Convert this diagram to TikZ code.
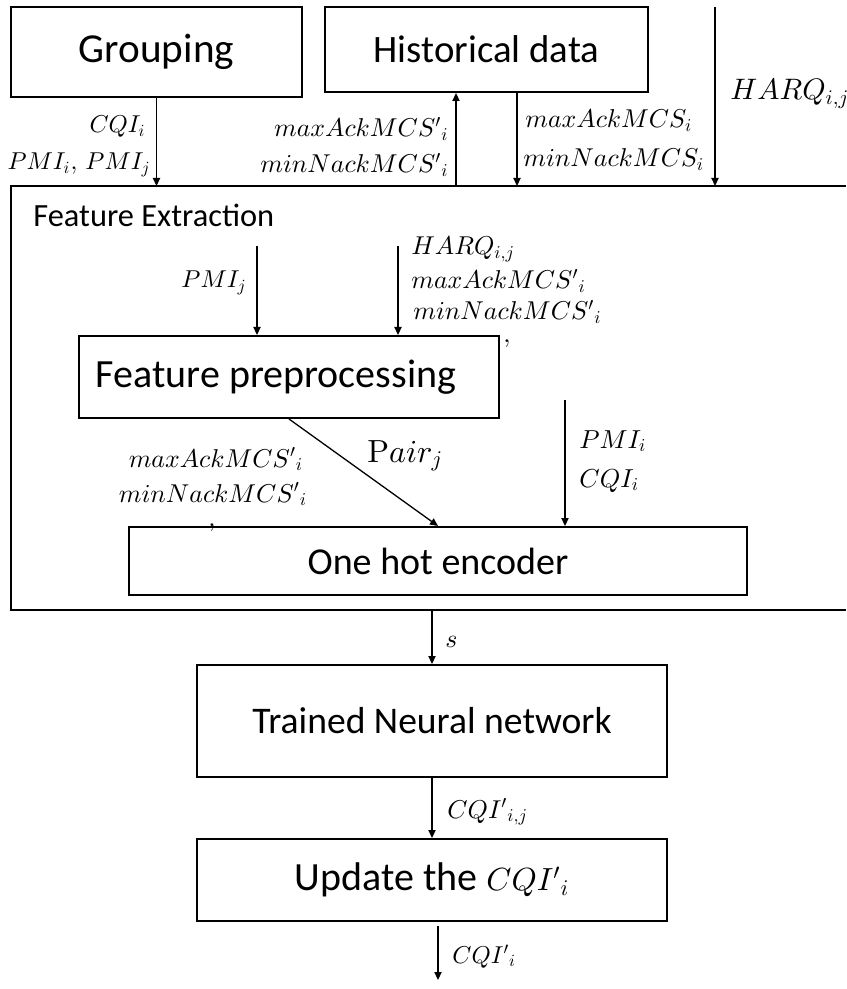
\documentclass[tikz,border=0pt]{standalone}
\usepackage[no-math]{fontspec}
\setmainfont{Carlito}
\usetikzlibrary{arrows.meta}

% let the math fonts scale to any size
\DeclareFontShape{OML}{cmm}{m}{it}{<->cmmi10}{}
\DeclareFontShape{OMS}{cmsy}{m}{n}{<->cmsy10}{}
\DeclareFontShape{OT1}{cmr}{m}{n}{<->cmr10}{}
\DeclareFontShape{OMX}{cmex}{m}{n}{<->cmex10}{}

\tikzset{
  x=0.5pt, y=-0.5pt,
  box/.style={draw, line width=1pt, inner sep=0pt, font=\fontsize{20}{24}\selectfont},
  frame/.style={line width=1pt},
  arr/.style={line width=0.65pt, -{Triangle[width=3.6pt,length=4pt]}},
  lab/.style={inner sep=0pt, font=\fontsize{12.9}{15}\selectfont},
  labsm/.style={inner sep=0pt, font=\fontsize{12.2}{15}\selectfont},
  labbig/.style={inner sep=0pt, font=\fontsize{14.8}{18}\selectfont},
  labmid/.style={inner sep=0pt, font=\fontsize{13}{16}\selectfont},
}

\begin{document}
\begin{tikzpicture}
\useasboundingbox (0,0) rectangle (846,989);

% top blocks
\node[box, minimum width=145.5pt, minimum height=45pt, font=\fontsize{20.6}{24}\selectfont] (grp) at (156.5,52) {Grouping};
\node[box, minimum width=161.5pt, minimum height=42.5pt, font=\fontsize{19.4}{24}\selectfont] (hist) at (486.5,49.5) {Historical data};

% feature extraction frame (right side runs off the page)
\coordinate (fetop) at (11,186);
\coordinate (febot) at (11,610);
\draw[frame] (846,186) -- (fetop) -- (febot) -- (846,610);
\node[inner sep=0pt, anchor=base west, font=\fontsize{16.2}{19}\selectfont] (fetitle) at (33,227) {Feature Extraction};

% inner blocks
\node[box, minimum width=210pt, minimum height=41pt] (fp) at (289,377) {Feature preprocessing\hspace*{13pt}};
\node[box, minimum width=309pt, minimum height=34pt, font=\fontsize{19}{23}\selectfont] (ohe) at (438,561) {One hot encoder};

% lower blocks
\node[box, minimum width=235pt, minimum height=56pt, font=\fontsize{18.8}{23}\selectfont] (tnn) at (432,721) {Trained Neural network};
\node[box, minimum width=235pt, minimum height=41pt] (upd) at (432,880)
  {\raisebox{-5pt}{Update the {\fontsize{16}{18}\selectfont$CQI'{}_i$}}};

% connector ports
\coordinate (upx) at (456,0);
\coordinate (dnx) at (517,0);
\coordinate (harqsrc) at (715,7);
\coordinate (pmijsrc) at (257,246);
\coordinate (harqinsrc) at (398,246);
\coordinate (pmiisrc) at (565,400);
\coordinate (outsrc) at (438,926);
\coordinate (outdst) at (438,980);

% connectors
\draw[arr] (grp.south) -- (grp.south |- fetop);
\draw[arr] (upx |- fetop) -- (upx |- hist.south);
\draw[arr] (dnx |- hist.south) -- (dnx |- fetop);
\draw[arr] (harqsrc) -- (harqsrc |- fetop);
\draw[arr] (pmijsrc) -- (pmijsrc |- fp.north);
\draw[arr] (harqinsrc) -- (harqinsrc |- fp.north);
\draw[arr] (fp.south) -- (ohe.north);
\draw[arr] (pmiisrc) -- (pmiisrc |- ohe.north);
\draw[arr] (tnn.north |- febot) -- (tnn.north);
\draw[arr] (tnn.south) -- (upd.north);
\draw[arr] (outsrc) -- (outdst);

% labels, top row
\node[labsm, anchor=base east] (l1) at (146,133) {$CQI_i$};
\node[labsm, anchor=base east] (l2) at (151,170) {$PMI_i,\,PMI_j$};
\node[lab, anchor=base east] (l3) at (449,137) {$maxAckMCS'{}_i$};
\node[lab, anchor=base east] (l4) at (449,173) {$minNackMCS'{}_i$};
\node[lab, anchor=base west] (l5) at (525,128) {$maxAckMCS_i$};
\node[lab, anchor=base west] (l6) at (523,167) {$minNackMCS_i$};
\node[labbig, anchor=base west] (l7) at (730,100) {$HARQ_{i,j}$};

% labels inside the frame
\node[labsm, anchor=base east] (l8) at (247,288) {$PMI_j$};
\node[lab, anchor=base west] (l9) at (411,255) {$HARQ_{i,j}$};
\node[lab, anchor=base west] (l10) at (411,289) {$maxAckMCS'{}_i$};
\node[lab, anchor=base west] (l11) at (413,320) {$minNackMCS'{}_i$};
\node[lab, anchor=north] (l12) at (507,339) {$,$};
\node[labbig, anchor=base west, font=\fontsize{16}{19}\selectfont] (l13) at (367,462) {$\mathrm{P}air_j$};
\node[labmid, anchor=base west] (l14) at (579,448) {$PMI_i$};
\node[labmid, anchor=base west] (l15) at (579,487) {$CQI_i$};
\node[lab, anchor=base] (l16) at (216,467) {$maxAckMCS'{}_i$};
\node[lab, anchor=base] (l17) at (213,502) {$minNackMCS'{}_i$};
\node[lab, anchor=north] (l18) at (212,523) {$,$};

% labels below the frame
\node[lab, anchor=base west] (l19) at (445,647) {$s$};
\node[lab, anchor=base west] (l20) at (447,818) {$CQI'{}_{i,j}$};
\node[labsm, anchor=base west] (l21) at (452,963) {$CQI'{}_i$};
\end{tikzpicture}
\end{document}
